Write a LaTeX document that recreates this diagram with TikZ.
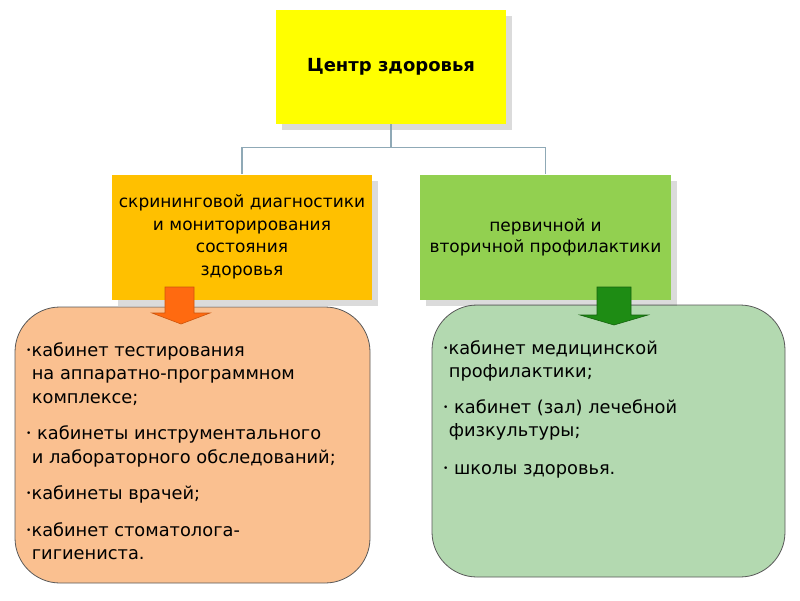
\documentclass[tikz,border=0pt]{standalone}
\usepackage{fontspec}
\setmainfont{DejaVu Sans}
\usepackage{xcolor}
\usepackage{tikz}
\usetikzlibrary{positioning, shadows, calc}

\definecolor{topyellow}{HTML}{FFFF00}
\definecolor{screenorange}{HTML}{FFC000}
\definecolor{profgreen}{HTML}{92D050}
\definecolor{roomsalmon}{HTML}{FAC090}
\definecolor{roomgreen}{HTML}{B3D9B0}
\definecolor{linkgray}{HTML}{8FA9B6}
\definecolor{arroworange}{HTML}{FF6A10}
\definecolor{arrowgreen}{HTML}{1E8C14}

\newcommand{\smalldot}{\raisebox{3pt}{\fontsize{9}{9}\selectfont•}}

\tikzset{
  headbox/.style={rectangle, inner sep=0pt, align=center,
    drop shadow={shadow xshift=6pt, shadow yshift=-6pt, opacity=0.2, fill=black!70}},
  roombox/.style={rectangle, rounded corners=45pt, draw=black!65, line width=0.8pt, inner sep=0pt},
  roomtext/.style={anchor=north west, inner sep=0pt, align=left,
    font=\fontsize{17.8}{23.5}\selectfont},
  link/.style={draw=linkgray, line width=1.3pt},
}

\begin{document}
\begin{tikzpicture}[x=1pt, y=-1pt]
\useasboundingbox[fill=white] (0,0) rectangle (800,600);

% rooms below
\node[roombox, fill=roomsalmon, minimum width=355pt, minimum height=276pt] (roomsL) at (192.5,445) {};
\node[roombox, fill=roomgreen, minimum width=353pt, minimum height=272pt] (roomsR) at (608.5,441) {};

% head boxes
\node[headbox, fill=topyellow, minimum width=230pt, minimum height=114pt,
      font=\fontsize{18}{22}\selectfont\bfseries] (center) at (391,67) {Центр здоровья};
\node[headbox, fill=screenorange, minimum width=260pt, minimum height=125pt,
      font=\fontsize{17}{22.5}\selectfont] (screen) at (242,237)
      {скрининговой диагностики\\и мониторирования\\состояния\\ здоровья};
\node[headbox, fill=profgreen, minimum width=251pt, minimum height=125pt,
      font=\fontsize{17}{21}\selectfont] (prof) at (545.5,237)
      {первичной и\\вторичной профилактики};

% tree lines
\draw[link] (center.south) -- ++(0,23) -| (screen.north);
\draw[link] (center.south) -- ++(0,23) -| (prof.north);

% block arrows
\coordinate (tipL) at (181,324);
\coordinate (tipR) at (614,325);
\filldraw[fill=arroworange, draw=arroworange!80!black, line width=0.6pt]
  (tipL) -- ++(-29,-11) -- ++(13,0) -- ++(0,-26) -- ++(29,0) -- ++(0,26) -- ++(16,0) -- cycle;
\filldraw[fill=arrowgreen, draw=arrowgreen!70!black, line width=0.6pt]
  (tipR) -- ++(-34,-10) -- ++(17,0) -- ++(0,-28) -- ++(34,0) -- ++(0,28) -- ++(17,0) -- cycle;

% room lists
\node[roomtext] (listL) at (26,342)
  {\smalldot кабинет тестирования\\
   \ на аппаратно-программном\\
   \ комплексе;\\[13pt]
   \smalldot\ кабинеты инструментального\\
   \ и лабораторного обследований;\\[13pt]
   \smalldot кабинеты врачей;\\[13pt]
   \smalldot кабинет стоматолога-\\
   \ гигиениста.};
\node[roomtext] (listR) at (443,340)
  {\smalldot кабинет медицинской\\
   \ профилактики;\\[12pt]
   \smalldot\ кабинет (зал) лечебной\\
   \ физкультуры;\\[14pt]
   \smalldot\ школы здоровья.};
\end{tikzpicture}
\end{document}
